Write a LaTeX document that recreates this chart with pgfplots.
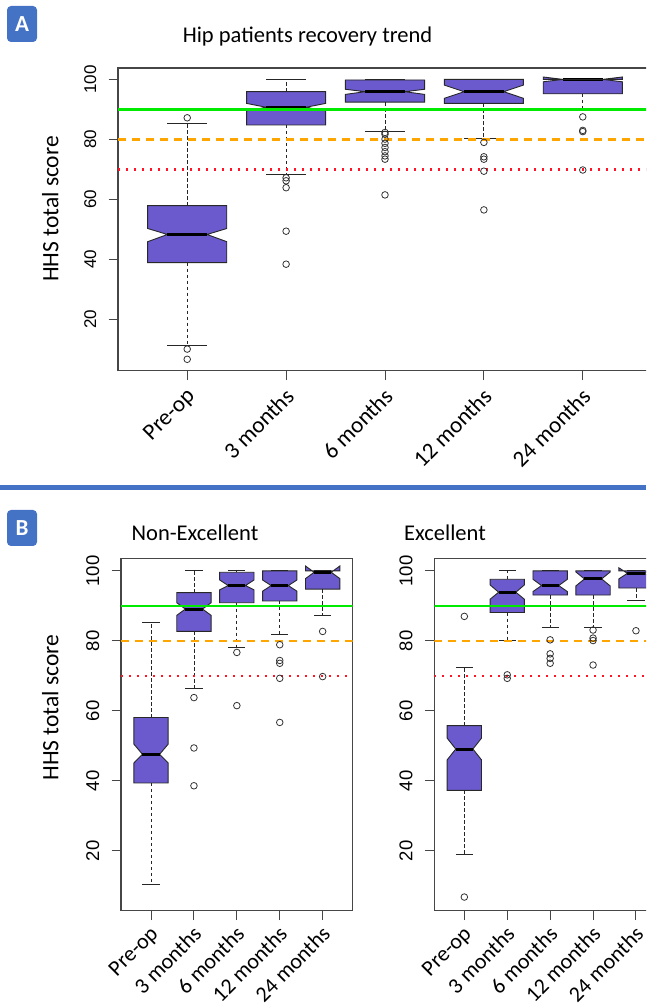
\documentclass[border=0pt]{standalone}
\usepackage{pgfplots}
\pgfplotsset{compat=1.18}
\usepackage{fontspec}
\setmainfont{Carlito}
\newfontfamily\arialf{Liberation Sans}
\definecolor{slateb}{RGB}{106,90,205}
\definecolor{badge}{RGB}{68,114,196}
\definecolor{axcol}{RGB}{70,70,70}
\definecolor{boxedge}{RGB}{40,40,40}
\definecolor{gline}{RGB}{0,235,0}
\definecolor{oline}{RGB}{255,165,0}
\definecolor{rline}{RGB}{255,20,40}
\pgfplotsset{
  boxst/.style={draw=boxedge, fill=slateb, line width=0.9pt, mark=none},
  medst/.style={black, line width=3pt, mark=none},
  whst/.style={black!85, line width=0.8pt, dash pattern=on 3.5pt off 2.5pt, mark=none},
  stst/.style={black!85, line width=0.9pt, mark=none},
  outst/.style={only marks, mark=o, mark size=3.3pt, mark options={draw=black!80, line width=0.8pt}},
  hhs/.style={
    scale only axis, xmin=0.3, xmax=5.7,
    xtick={1,2,3,4,5},
    xticklabels={Pre-op,3 months,6 months,12 months,24 months},
    ytick={20,40,60,80,100},
    tick pos=left, tick align=outside, major tick length=9.5pt,
    tick style={draw=axcol, line width=1pt},
    axis line style={draw=axcol, line width=1.1pt},
    /pgf/number format/assume math mode=true,
    clip=true,
  },
}
\newcommand\nbox[8]{%
  \pgfmathsetmacro\bxl{#1-0.4}\pgfmathsetmacro\bxr{#1+0.4}%
  \pgfmathsetmacro\bnl{#1-0.2}\pgfmathsetmacro\bnr{#1+0.2}%
  \edef\dobox{%
    \noexpand\addplot[boxst] coordinates {(\bxl,#3) (\bxr,#3) (\bxr,#4) (\bnr,#5) (\bxr,#6) (\bxr,#7) (\bxl,#7) (\bxl,#6) (\bnl,#5) (\bxl,#4)} -- cycle;%
    \noexpand\addplot[medst] coordinates {(\bnl,#5) (\bnr,#5)};%
    \noexpand\addplot[whst] coordinates {(#1,#3) (#1,#2)};%
    \noexpand\addplot[whst] coordinates {(#1,#7) (#1,#8)};%
    \noexpand\addplot[stst] coordinates {(\bnl,#2) (\bnr,#2)};%
    \noexpand\addplot[stst] coordinates {(\bnl,#8) (\bnr,#8)};%
  }\dobox}
\newcommand\refl{%
  \addplot[gline, line width=2.4pt, mark=none] coordinates {(0.3,90) (5.7,90)};
  \addplot[oline, line width=2.5pt, dash pattern=on 8pt off 6pt, mark=none] coordinates {(0.3,80) (5.7,80)};
  \addplot[rline, line width=2.5pt, dash pattern=on 2pt off 6pt, mark=none] coordinates {(0.3,70) (5.7,70)};
}
\begin{document}
\begin{tikzpicture}[x=1pt,y=1pt]
\clip (0,0) rectangle (646,1007);
\path[use as bounding box] (0,0) rectangle (646,1007);
% ---------- panel A ----------
\fill[badge, rounded corners=4pt] (7,965) rectangle (37,1001);
\node[white, font=\bfseries\fontsize{23}{23}\selectfont] at (22,983) {A};
\node[anchor=base, font=\fontsize{22.5}{22.5}\selectfont] at (307.5,964.3) {Hip patients recovery trend};
\node[rotate=90, anchor=base, font=\fontsize{23.5}{23.5}\selectfont] at (58.3,798) {HHS total score};
\begin{axis}[hhs, at={(118pt,636.3pt)}, anchor=south west, width=534pt, height=302.7pt,
  ymin=2.9, ymax=103.8,
  x tick label style={font=\fontsize{23}{23}\selectfont, xshift=-2pt, yshift=-5pt, rotate=45, anchor=north east, inner sep=1pt},
  y tick label style={font=\arialf\fontsize{17}{17}\selectfont, xshift=-11pt, rotate=90, anchor=south, inner sep=1pt}]
\nbox{1}{11.2}{38.9}{45.9}{48.3}{50.3}{57.9}{85.4}
\addplot[outst] coordinates {(1,87.2) (1,10.1) (1,6.7)};
\nbox{2}{68.2}{84.8}{89.5}{90.7}{92.0}{95.9}{100}
\addplot[outst] coordinates {(2,67.2) (2,66.2) (2,63.9) (2,49.4) (2,38.4)};
\nbox{3}{82.8}{92.4}{95.0}{95.9}{96.7}{99.8}{100}
\addplot[outst] coordinates {(3,82.3) (3,81.7) (3,80.1) (3,78.7) (3,77.3) (3,75.9) (3,74.5) (3,73.4) (3,61.5)};
\nbox{4}{80.3}{92.0}{93.7}{95.9}{98.1}{100}{100}
\addplot[outst] coordinates {(4,79.0) (4,74.2) (4,73.4) (4,69.4) (4,56.5)};
\nbox{5}{89.5}{95.2}{99.2}{100}{100.8}{100}{100}
\addplot[outst] coordinates {(5,87.5) (5,83.0) (5,82.6) (5,69.8)};
\refl
\end{axis}
% divider
\fill[badge] (0,516.5) rectangle (646,521.5);
% ---------- panel B ----------
\fill[badge, rounded corners=4pt] (7,461) rectangle (37,497);
\node[white, font=\bfseries\fontsize{23}{23}\selectfont] at (22,479) {B};
\node[anchor=base, font=\fontsize{22.5}{22.5}\selectfont] at (195,466) {Non-Excellent};
\node[anchor=base, font=\fontsize{22.5}{22.5}\selectfont] at (445,466) {Excellent};
\node[rotate=90, anchor=base, font=\fontsize{23.5}{23.5}\selectfont] at (58.3,299.5) {HHS total score};
\begin{axis}[hhs, at={(121pt,96.3pt)}, anchor=south west, width=231.7pt, height=352.4pt,
  ymin=2.9, ymax=103.6,
  x tick label style={font=\fontsize{22}{22}\selectfont, xshift=-2pt, yshift=-3pt, rotate=45, anchor=north east, inner sep=1pt},
  y tick label style={font=\arialf\fontsize{18.5}{18.5}\selectfont, xshift=-11pt, rotate=90, anchor=south, inner sep=1pt}]
\nbox{1}{10.4}{39.4}{45.1}{47.6}{50.5}{58.1}{85.3}
\nbox{2}{66.5}{82.7}{87.3}{89.1}{90.9}{93.8}{100}
\addplot[outst] coordinates {(2,63.8) (2,49.4) (2,38.6)};
\nbox{3}{78.1}{90.9}{94.6}{95.8}{97.4}{99.6}{100}
\addplot[outst] coordinates {(3,76.7) (3,61.5)};
\nbox{4}{81.7}{91.4}{94.2}{95.8}{97.4}{100}{100}
\addplot[outst] coordinates {(4,78.9) (4,74.4) (4,73.6) (4,69.3) (4,56.7)};
\nbox{5}{87.4}{94.8}{97.8}{99.6}{101.4}{100}{100}
\addplot[outst] coordinates {(5,82.7) (5,69.8)};
\refl
\end{axis}
\begin{axis}[hhs, at={(434.3pt,96.3pt)}, anchor=south west, width=231.7pt, height=352.4pt,
  ymin=2.9, ymax=103.6,
  x tick label style={font=\fontsize{22}{22}\selectfont, xshift=-2pt, yshift=-3pt, rotate=45, anchor=north east, inner sep=1pt},
  y tick label style={font=\arialf\fontsize{18.5}{18.5}\selectfont, xshift=-11pt, rotate=90, anchor=south, inner sep=1pt}]
\nbox{1}{18.9}{37.3}{46.0}{49.1}{52.2}{55.8}{72.4}
\addplot[outst] coordinates {(1,87.0) (1,6.8)};
\nbox{2}{80.1}{88.1}{91.9}{93.9}{96.0}{97.6}{100}
\addplot[outst] coordinates {(2,70.3) (2,69.3)};
\nbox{3}{83.8}{93.1}{94.1}{95.8}{97.6}{100}{100}
\addplot[outst] coordinates {(3,80.3) (3,76.3) (3,75.0) (3,73.6)};
\nbox{4}{83.8}{93.1}{95.7}{97.7}{99.7}{100}{100}
\addplot[outst] coordinates {(4,83.1) (4,80.8) (4,80.1) (4,73.1)};
\nbox{5}{91.5}{95.1}{97.7}{99.3}{100.9}{100}{100}
\addplot[outst] coordinates {(5,82.9)};
\refl
\end{axis}
\end{tikzpicture}
\end{document}
